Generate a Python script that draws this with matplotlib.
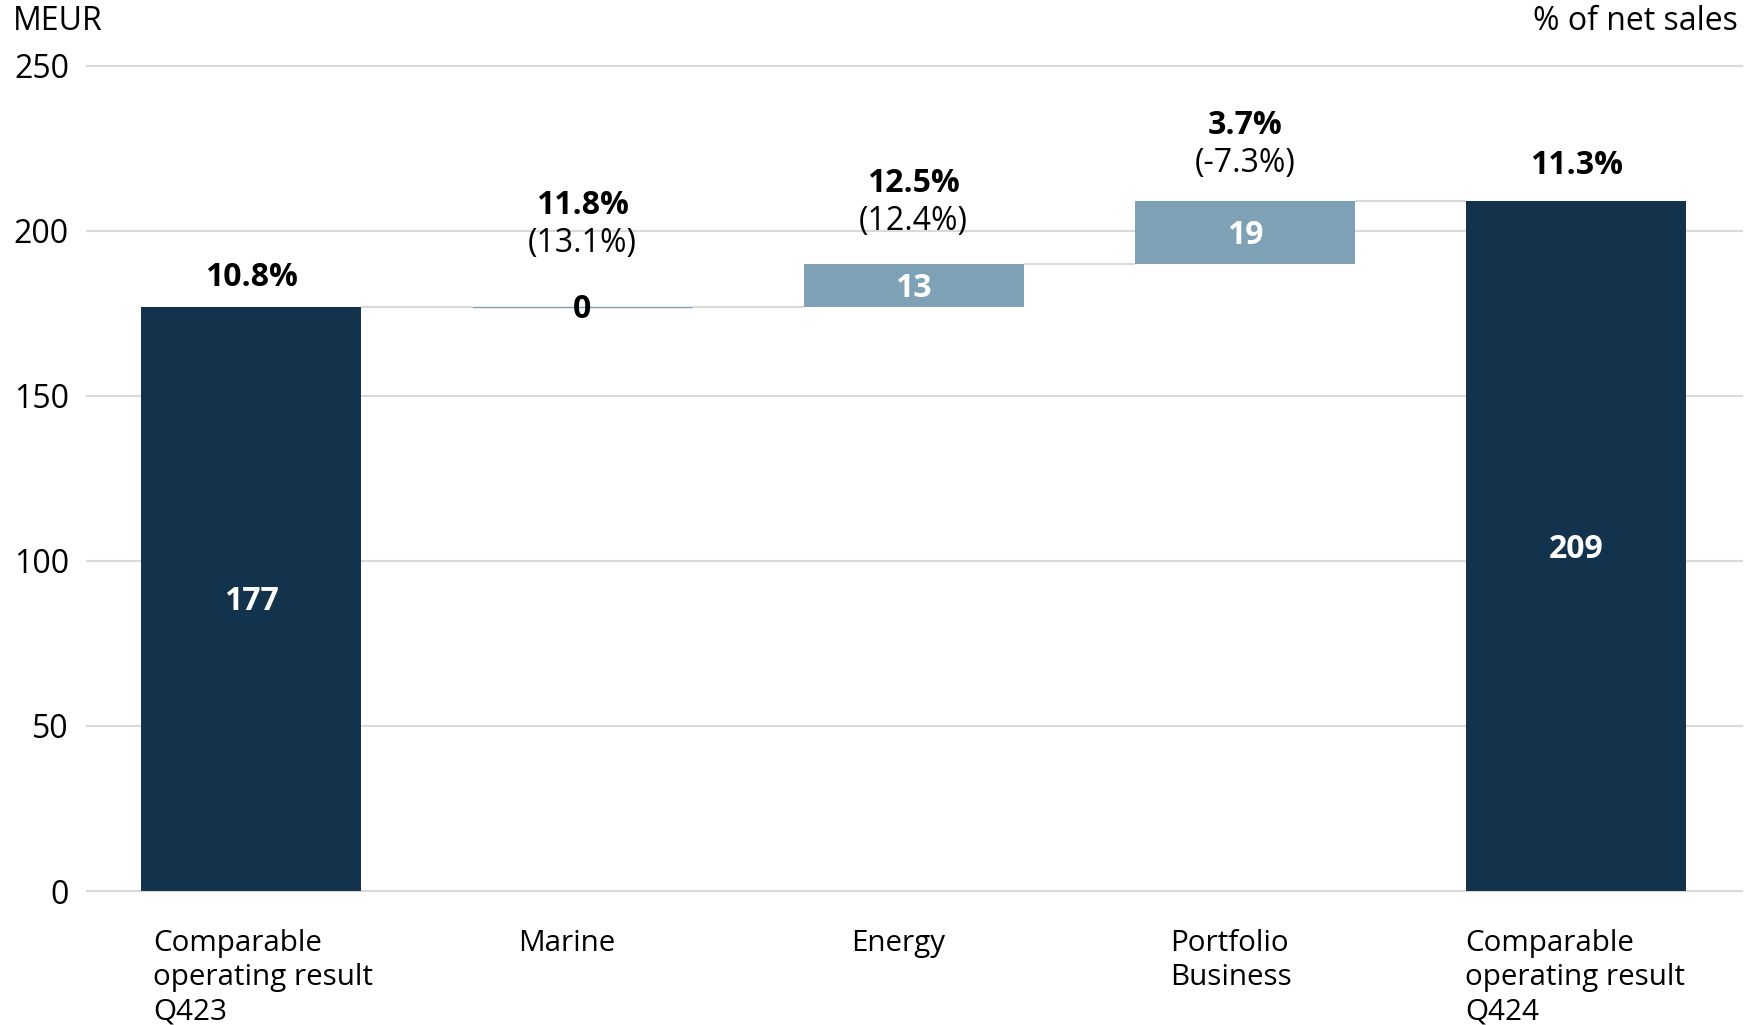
import matplotlib
matplotlib.use("Agg")
import matplotlib.pyplot as plt
import matplotlib.transforms as mtransforms
import numpy as np

plt.rcParams['font.family'] = ['Open Sans', 'DejaVu Sans']

# Waterfall data (MEUR)
categories = ["Comparable\noperating result\nQ423", "Marine", "Energy",
              "Portfolio\nBusiness", "Comparable\noperating result\nQ424"]
start_value = 177
deltas = [0, 13, 19]
end_value = 209
margin_pct = ["10.8%", "11.8%", "12.5%", "3.7%", "11.3%"]
margin_change = [None, "(13.1%)", "(12.4%)", "(-7.3%)", None]
y_ticks = [0, 50, 100, 150, 200, 250]

DARK = "#12334b"
LIGHT = "#7fa1b6"
GRID = "#d9d9d9"
FS = 23
FS_CAT = 21.3

fig = plt.figure(figsize=(17.44, 10.25), dpi=100)
ax = fig.add_axes([0.0499, 0.1307, 0.949, 0.8053])

# bar geometry from the data
n = len(categories)
x = np.arange(n)
width = 0.664
bottoms = [0]
heights = [start_value]
running = start_value
for d in deltas:
    bottoms.append(running)
    heights.append(d)
    running += d
bottoms.append(0)
heights.append(end_value)
colors = [DARK] + [LIGHT] * len(deltas) + [DARK]
tops = [b + h for b, h in zip(bottoms, heights)]

ax.set_xlim(-0.495, 4.5)
ax.set_ylim(0, 250)

# gridlines
for t in y_ticks:
    ax.axhline(t, color=GRID, lw=1.5, zorder=0, clip_on=False)

# connectors between consecutive bars
for i in range(n - 1):
    ax.plot([x[i] + width / 2, x[i + 1] - width / 2], [tops[i], tops[i]],
            color=GRID, lw=1.5, zorder=1, solid_capstyle='butt')

ax.bar(x, heights, bottom=bottoms, width=width, color=colors, zorder=2)
# zero-height steps drawn as a thin line
for i in range(n):
    if heights[i] == 0:
        ax.plot([x[i] - width / 2, x[i] + width / 2], [bottoms[i]] * 2,
                color=LIGHT, lw=1.0, zorder=3, solid_capstyle='butt')

px = 0.72  # points per pixel at 100 dpi

# value labels
for i in range(n):
    h = heights[i]
    if h == 0:
        ax.annotate(f"{h}", (x[i], bottoms[i]), xytext=(0, -3 * px),
                    textcoords='offset points', ha='center', va='center',
                    fontsize=FS, fontweight='bold', color='black', zorder=4)
    else:
        ax.annotate(f"{h}", (x[i], bottoms[i] + h / 2), xytext=(0, -3 * px),
                    textcoords='offset points', ha='center', va='center',
                    fontsize=FS, fontweight='bold', color='white', zorder=4)

# margin labels above bars
label_pad = [29, 63, 42, 37, 35]  # gap above bar top, pixels
for i in range(n):
    base = label_pad[i]
    if margin_change[i] is None:
        ax.annotate(margin_pct[i], (x[i], tops[i]), xytext=(0, base * px),
                    textcoords='offset points', ha='center', va='center',
                    fontsize=FS, fontweight='bold')
    else:
        ax.annotate(margin_change[i], (x[i], tops[i]), xytext=(0, base * px),
                    textcoords='offset points', ha='center', va='center',
                    fontsize=FS)
        ax.annotate(margin_pct[i], (x[i], tops[i]), xytext=(0, (base + 38) * px),
                    textcoords='offset points', ha='center', va='center',
                    fontsize=FS, fontweight='bold')

ax.set_yticks(y_ticks)
ax.set_yticklabels([str(t) for t in y_ticks], fontsize=FS)
ax.set_xticks([])
ax.tick_params(axis='y', length=0, pad=13)
for s in ax.spines.values():
    s.set_visible(False)

# category labels under the axis, left-aligned lines in a centred block
label_shift = [12, -16, -16, -14, -1]  # horizontal nudge in pixels
for i, cat in enumerate(categories):
    tr = ax.get_xaxis_transform() + mtransforms.ScaledTranslation(
        label_shift[i] / 100, -38 / 100, fig.dpi_scale_trans)
    ax.text(x[i], 0, cat, transform=tr, ha='center', va='top',
            multialignment='left', fontsize=FS_CAT, linespacing=1.24)

fig.text(13 / 1744, 1 - 22 / 1025, "MEUR", ha='left', va='center', fontsize=FS)
fig.text(1738 / 1744, 1 - 22 / 1025, "% of net sales", ha='right', va='center', fontsize=FS)

fig.savefig("out.png", dpi=100)
